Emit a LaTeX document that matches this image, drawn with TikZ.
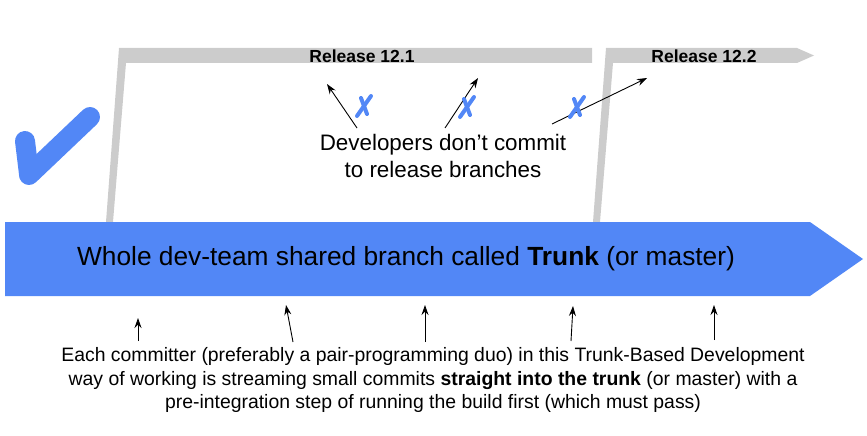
\documentclass[tikz,border=0pt]{standalone}
\usepackage{fontspec}
\setmainfont{Liberation Sans}
\usetikzlibrary{arrows.meta}
\definecolor{trunkblue}{RGB}{82,135,246}
\definecolor{relgray}{RGB}{204,204,204}
\tikzset{
  branchfill/.style={fill=relgray, draw=none},
  ptr/.style={draw=black, line width=0.9pt, -{Stealth[length=10pt,width=7pt]}},
  nocommit/.style={draw=trunkblue, line width=4pt, line cap=round},
  reltext/.style={font=\fontsize{17.5}{20}\selectfont\bfseries, inner sep=0pt},
}
\begin{document}
\begin{tikzpicture}[x=1pt,y=-1pt]
\useasboundingbox (0,0) rectangle (867,436);
% release branches
\fill[branchfill] (106,222) -- (119,48) -- (592,48) -- (592,63) -- (126,63) -- (113,222) -- cycle;
\fill[branchfill] (593,222) -- (606,48) -- (797,48) -- (814,55.5) -- (797,63) -- (613,63) -- (600,222) -- cycle;
\node[reltext] (r121) at (362,56) {Release 12.1};
\node[reltext] (r122) at (704,56) {Release 12.2};
% trunk
\fill[trunkblue] (5,222) -- (810,222) -- (863,259) -- (810,296) -- (5,296) -- cycle;
\node[inner sep=0pt, font=\fontsize{26.3}{30}\selectfont] (trunk) at (406,259) {Whole dev-team shared branch called \textbf{Trunk} (or master)};
% check mark
\draw[trunkblue, line width=20pt, line cap=round] (25,141) -- (29,174);
\draw[trunkblue, line width=20pt, line cap=round, line join=round] (29,175) -- (90,117);
% developers text
\node[align=center, inner sep=0pt, font=\fontsize{22.4}{27}\selectfont] (dev) at (443,156) {Developers don’t commit\\to release branches};
% arrows to release branches
\coordinate (a1s) at (357,128); \coordinate (a1e) at (327,84);
\coordinate (a2s) at (445,128); \coordinate (a2e) at (478,78);
\coordinate (a3s) at (552,124); \coordinate (a3e) at (647,78);
\draw[ptr] (a1s) -- (a1e);
\draw[ptr] (a2s) -- (a2e);
\draw[ptr] (a3s) -- (a3e);
% X marks
\foreach \n/\cx/\cy in {x1/364/106, x2/467/107, x3/577/107}{
  \coordinate (\n) at (\cx,\cy);
  \draw[nocommit] ([shift={(-7,10)}]\n) -- ([shift={(7,-10)}]\n);
  \draw[nocommit] ([shift={(-3,-8)}]\n) -- ([shift={(3,8)}]\n);
}
% bottom text
\node[align=center, inner sep=0pt, font=\fontsize{19.4}{23.5}\selectfont] (desc) at (433,380) {Each committer (preferably a pair-programming duo) in this Trunk-Based Development\\way of working is streaming small commits \textbf{straight into the trunk} (or master) with a\\pre-integration step of running the build first (which must pass)};
% bottom arrows
\coordinate (b1s) at (138,341); \coordinate (b1e) at (138,318);
\coordinate (b2s) at (293,342); \coordinate (b2e) at (286,305);
\coordinate (b3s) at (425,342); \coordinate (b3e) at (425,305);
\coordinate (b4s) at (571,341); \coordinate (b4e) at (573,306);
\coordinate (b5s) at (714,340); \coordinate (b5e) at (714,305);
\foreach \i in {1,...,5}{\draw[ptr] (b\i s) -- (b\i e);}
\end{tikzpicture}
\end{document}
